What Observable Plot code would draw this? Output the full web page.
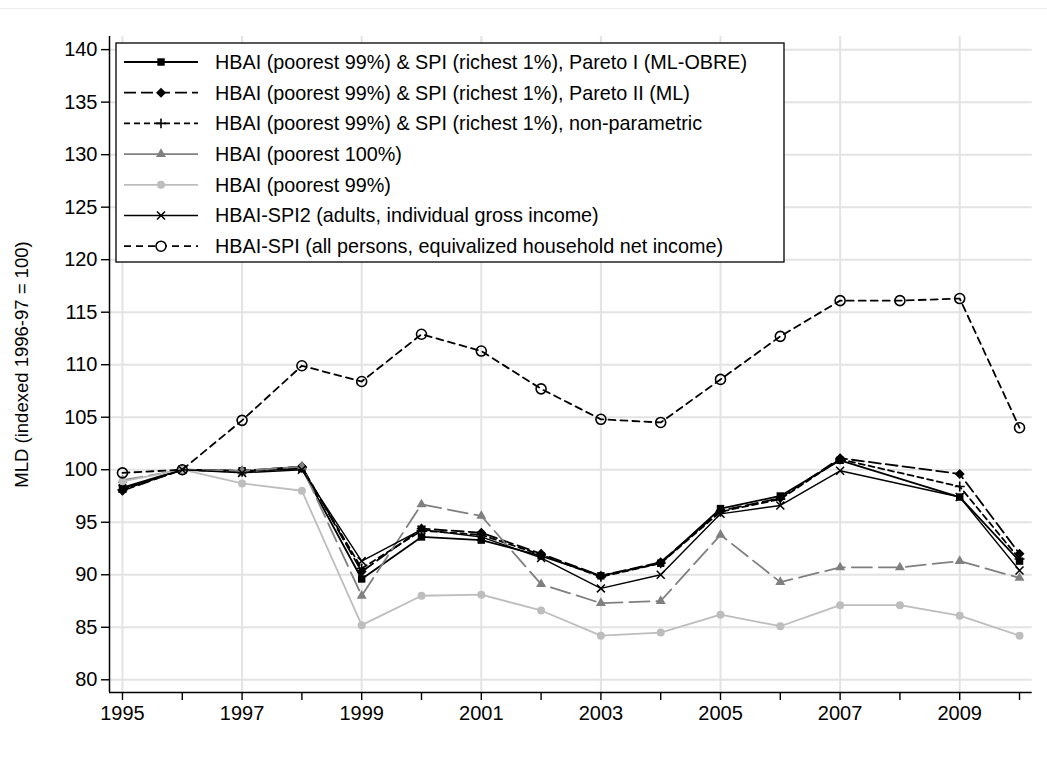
<!DOCTYPE html>
<html>
<head>
<meta charset="utf-8">
<script src="https://cdn.jsdelivr.net/npm/d3@7"></script>
<script src="https://cdn.jsdelivr.net/npm/@observablehq/plot@0.6"></script>
<style>
  body { margin: 0; background: #fff; }
  #chart svg { display: block; }
</style>
</head>
<body>
<div id="chart"></div>
<script>
// ---- data ----
const years = [1995, 1996, 1997, 1998, 1999, 2000, 2001, 2002, 2003, 2004, 2005, 2006, 2007, 2008, 2009, 2010];
const paretoI   = [98.3, 100, 99.9, 100.1, 89.6, 93.6, 93.3, 91.8, 89.9, 91.1, 96.3, 97.5, 100.9, null, 97.4, 91.3];
const paretoII  = [98.0, 100, 99.9, 100.3, 90.3, 94.4, 94.0, 92.0, 89.9, 91.2, 96.1, 97.3, 101.1, null, 99.6, 92.0];
const nonParam  = [98.1, 100, 99.8, 100.2, 90.6, 94.2, 93.8, 91.9, 89.8, 91.1, 96.0, 97.2, 101.0, null, 98.4, 91.5];
const hbai100   = [99.0, 100, 99.9, 100.3, 88.0, 96.7, 95.6, 89.1, 87.3, 87.5, 93.8, 89.3, 90.7, 90.7, 91.3, 89.7];
const hbai99    = [98.9, 100, 98.7, 98.0, 85.2, 88.0, 88.1, 86.6, 84.2, 84.5, 86.2, 85.1, 87.1, 87.1, 86.1, 84.2];
const hbaiSpi2  = [98.2, 100, 99.7, 100.0, 91.3, 94.3, 93.6, 91.6, 88.7, 90.0, 95.8, 96.6, 99.9, null, 97.4, 90.4];
const hbaiSpi   = [99.7, 100, 104.7, 109.9, 108.4, 112.9, 111.3, 107.7, 104.8, 104.5, 108.6, 112.7, 116.1, 116.1, 116.3, 104.0];

const legendLabels = [
  "HBAI (poorest 99%) & SPI (richest 1%), Pareto I (ML-OBRE)",
  "HBAI (poorest 99%) & SPI (richest 1%), Pareto II (ML)",
  "HBAI (poorest 99%) & SPI (richest 1%), non-parametric",
  "HBAI (poorest 100%)",
  "HBAI (poorest 99%)",
  "HBAI-SPI2 (adults, individual gross income)",
  "HBAI-SPI (all persons, equivalized household net income)"
];
const yTicks = [80, 85, 90, 95, 100, 105, 110, 115, 120, 125, 130, 135, 140];
const xLabelYears = [1995, 1997, 1999, 2001, 2003, 2005, 2007, 2009];
const yTitle = "MLD (indexed 1996-97 = 100)";

// ---- styles ----
const seriesValues = [paretoI, paretoII, nonParam, hbai100, hbai99, hbaiSpi2, hbaiSpi];
const styles = [
  {stroke: "#000", width: 1.8, dash: null,  symbol: "square",   r: 4.2, fill: "#000", symStroke: "none", symWidth: 0},
  {stroke: "#000", width: 1.8, dash: "12,5", symbol: "diamond2", r: 4.5, fill: "#000", symStroke: "none", symWidth: 0},
  {stroke: "#000", width: 1.8, dash: "6,4",  symbol: "plus",     r: 3.3, fill: "none", symStroke: "#000", symWidth: 1.6},
  {stroke: "#808080", width: 1.8, dash: "20,7", symbol: "triangle", r: 3.7, fill: "#808080", symStroke: "none", symWidth: 0, legendSolid: true},
  {stroke: "#bdbdbd", width: 1.8, dash: null, symbol: "circle",   r: 4.0, fill: "#bdbdbd", symStroke: "none", symWidth: 0},
  {stroke: "#000", width: 1.4, dash: null,  symbol: "times",    r: 3.7, fill: "none", symStroke: "#000", symWidth: 1.5},
  {stroke: "#000", width: 1.8, dash: "7,5",  symbol: "circle",   r: 5.0, fill: "none", symStroke: "#000", symWidth: 1.6}
];

const seriesData = seriesValues.map(vals =>
  years.map((yr, i) => ({year: yr, value: vals[i]})).filter(d => d.value != null)
);

const xDomain = [1994.783, 2010.212];
const yDomain = [78.79, 141.25];
const font = "'Liberation Sans', Arial, Helvetica, sans-serif";

const marks = [
  Plot.gridY(yTicks, {stroke: "#e3e3e3", strokeOpacity: 1, strokeWidth: 2}),
  Plot.gridX(xLabelYears, {stroke: "#e3e3e3", strokeOpacity: 1, strokeWidth: 2})
];
seriesData.forEach((data, i) => {
  const s = styles[i];
  marks.push(Plot.lineY(data, {x: "year", y: "value", stroke: s.stroke, strokeWidth: s.width, strokeDasharray: s.dash || undefined}));
  marks.push(Plot.dot(data, {x: "year", y: "value", symbol: s.symbol, r: s.r, fill: s.fill, stroke: s.symStroke, strokeWidth: s.symWidth}));
});
marks.push(
  Plot.axisY(yTicks, {tickSize: 8, tickPadding: 4, fontSize: 20, strokeWidth: 1.4, label: null}),
  Plot.axisX(years, {tickSize: 8, tickPadding: 5, fontSize: 20, strokeWidth: 1.4, label: null, tickFormat: d => xLabelYears.includes(d) ? String(d) : ""}),
  Plot.text([yTitle], {frameAnchor: "left", rotate: -90, dx: -87, fontSize: 18.5, textAnchor: "middle", fill: "#000"}),
  Plot.ruleX([xDomain[0]], {stroke: "#000", strokeWidth: 1.5}),
  Plot.ruleY([yDomain[0]], {stroke: "#000", strokeWidth: 1.5})
);

const svg = Plot.plot({
  width: 1047,
  height: 773,
  marginLeft: 109,
  marginRight: 15.3,
  marginTop: 36,
  marginBottom: 81,
  x: {domain: xDomain},
  y: {domain: yDomain},
  style: {fontFamily: font, fontSize: "18px", color: "#000", background: "#fff"},
  marks
});

// ---- legend inside the plot (drawn into the same svg) ----
const root = d3.select(svg);
root.append("line").attr("x1", 0).attr("x2", 1047).attr("y1", 8.5).attr("y2", 8.5)
  .attr("stroke", "#ececec").attr("stroke-width", 1);

const lg = root.append("g").attr("font-family", font).attr("font-size", 19.8).attr("text-anchor", "start");
const box = {x: 116, y: 43, w: 668, h: 219};
lg.append("rect").attr("x", box.x).attr("y", box.y).attr("width", box.w).attr("height", box.h)
  .attr("fill", "#fff").attr("stroke", "#000").attr("stroke-width", 1.3);

const symbolMap = {square: d3.symbolSquare, diamond2: d3.symbolDiamond2, plus: d3.symbolPlus,
  triangle: d3.symbolTriangle, circle: d3.symbolCircle, times: d3.symbolTimes};

legendLabels.forEach((lab, i) => {
  const s = styles[i];
  const cy = 62 + i * 30.7;
  lg.append("line").attr("x1", 124).attr("x2", 198).attr("y1", cy).attr("y2", cy)
    .attr("stroke", s.stroke).attr("stroke-width", s.width)
    .attr("stroke-dasharray", s.legendSolid ? null : s.dash);
  lg.append("path")
    .attr("d", d3.symbol(symbolMap[s.symbol], Math.PI * s.r * s.r)())
    .attr("transform", `translate(161,${cy})`)
    .attr("fill", s.fill === "none" ? (s.symbol === "circle" ? "#fff" : "none") : s.fill)
    .attr("stroke", s.symStroke).attr("stroke-width", s.symWidth);
  lg.append("text").attr("x", 215).attr("y", cy).attr("dy", "0.35em")
    .attr("text-anchor", "start").attr("fill", "#000").text(lab);
});

document.getElementById("chart").appendChild(svg);
</script>
</body>
</html>
